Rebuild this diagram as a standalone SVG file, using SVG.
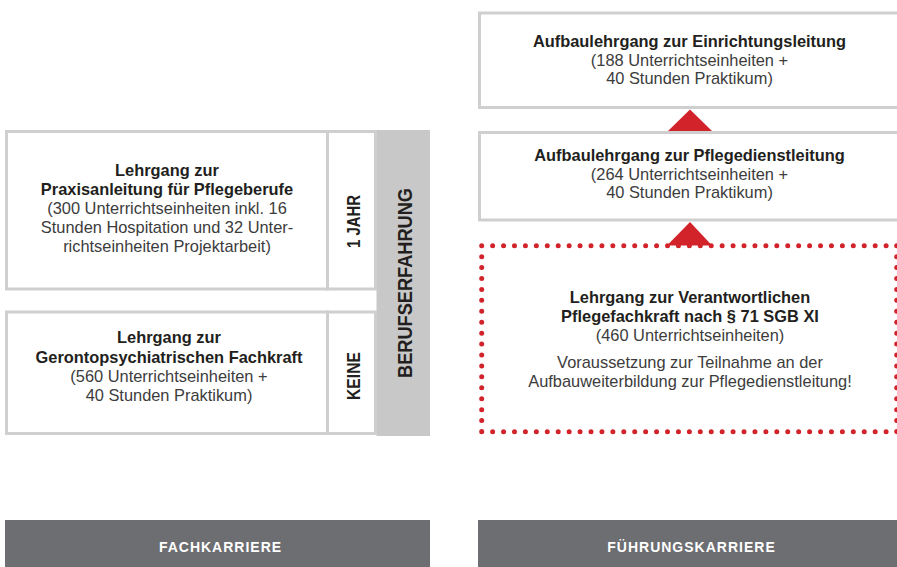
<svg xmlns="http://www.w3.org/2000/svg" width="897" height="567" viewBox="0 0 897 567">
<style>
.box{fill:#fff;stroke:#cfcfd0;stroke-width:3}
.b{font-family:"Liberation Sans",Arial,sans-serif;font-weight:bold;font-size:16.4px;fill:#231f20;text-anchor:middle}
.r{font-family:"Liberation Sans",Arial,sans-serif;font-size:16.4px;fill:#3c3c3c;text-anchor:middle}
.v{font-family:"Liberation Sans",Arial,sans-serif;font-weight:bold;fill:#231f20;text-anchor:middle}
.foot{font-family:"Liberation Sans",Arial,sans-serif;font-weight:bold;font-size:14px;fill:#fff;text-anchor:middle;letter-spacing:1px}
.tri{fill:#d2232a}
.dot{fill:none;stroke:#d2232a;stroke-width:5;stroke-linecap:round;stroke-dasharray:0 10.93}
</style>
<rect width="897" height="567" fill="#fff"/>
<g id="berufserfahrung">
<rect x="376.5" y="130" width="53.5" height="306" fill="#c8c8c9"/>
<text class="v" font-size="20" transform="translate(411.5,283) rotate(-90)" textLength="190" lengthAdjust="spacingAndGlyphs">BERUFSERFAHRUNG</text>
</g>
<g id="praxisanleitung">
<rect class="box" x="6.5" y="131.5" width="321" height="157.5"/>
<text class="b" x="167" y="176">Lehrgang zur</text>
<text class="b" x="167" y="195">Praxisanleitung für Pflegeberufe</text>
<text class="r" x="167" y="214">(300 Unterrichtseinheiten inkl. 16</text>
<text class="r" x="167" y="233">Stunden Hospitation und 32 Unter-</text>
<text class="r" x="167" y="252">richtseinheiten Projektarbeit)</text>
</g>
<g id="jahr">
<rect class="box" x="327.5" y="131.5" width="48" height="157.5"/>
<text class="v" font-size="17.5" transform="translate(360,221.5) rotate(-90)" textLength="53" lengthAdjust="spacingAndGlyphs">1 JAHR</text>
</g>
<g id="geronto">
<rect class="box" x="6.5" y="312" width="321" height="121.5"/>
<text class="b" x="169" y="343">Lehrgang zur</text>
<text class="b" x="169" y="362.5">Gerontopsychiatrischen Fachkraft</text>
<text class="r" x="169" y="381.5">(560 Unterrichtseinheiten +</text>
<text class="r" x="169" y="400.5">40 Stunden Praktikum)</text>
</g>
<g id="keine">
<rect class="box" x="327.5" y="312" width="48" height="121.5"/>
<text class="v" font-size="17.5" transform="translate(360,376) rotate(-90)" textLength="48" lengthAdjust="spacingAndGlyphs">KEINE</text>
</g>
<g id="einrichtungsleitung">
<rect class="box" x="479.5" y="13" width="422" height="94.5"/>
<text class="b" x="689.5" y="47">Aufbaulehrgang zur Einrichtungsleitung</text>
<text class="r" x="689.5" y="65.5">(188 Unterrichtseinheiten +</text>
<text class="r" x="689.5" y="84">40 Stunden Praktikum)</text>
</g>
<g id="pflegedienstleitung">
<rect class="box" x="479.5" y="132.5" width="422" height="87.5"/>
<text class="b" x="689.5" y="161">Aufbaulehrgang zur Pflegedienstleitung</text>
<text class="r" x="689.5" y="179.5">(264 Unterrichtseinheiten +</text>
<text class="r" x="689.5" y="198">40 Stunden Praktikum)</text>
</g>
<g id="connectors">
<polygon class="tri" points="668,131 690,109.5 712,131"/>
<polygon class="tri" points="667,245.5 690,222 712,245.5"/>
</g>
<g id="verantwortliche">
<path class="dot" d="M481.7,245.7 H900 M481.7,245.7 V431.7 M481.7,431.7 H900 M896.7,245.7 V431.7"/>
<text class="b" x="690" y="303.3">Lehrgang zur Verantwortlichen</text>
<text class="b" x="690" y="321.7">Pflegefachkraft nach § 71 SGB XI</text>
<text class="r" x="690" y="340.7">(460 Unterrichtseinheiten)</text>
<text class="r" x="690" y="367.7">Voraussetzung zur Teilnahme an der</text>
<text class="r" x="690" y="386.7">Aufbauweiterbildung zur Pflegedienstleitung!</text>
</g>
<g id="fachkarriere">
<rect x="5" y="520" width="425" height="47" fill="#6d6e71"/>
<text class="foot" x="220.5" y="551.5">FACHKARRIERE</text>
</g>
<g id="fuehrungskarriere">
<rect x="478" y="520" width="419" height="47" fill="#6d6e71"/>
<text class="foot" x="691.5" y="551.5">FÜHRUNGSKARRIERE</text>
</g>
</svg>
